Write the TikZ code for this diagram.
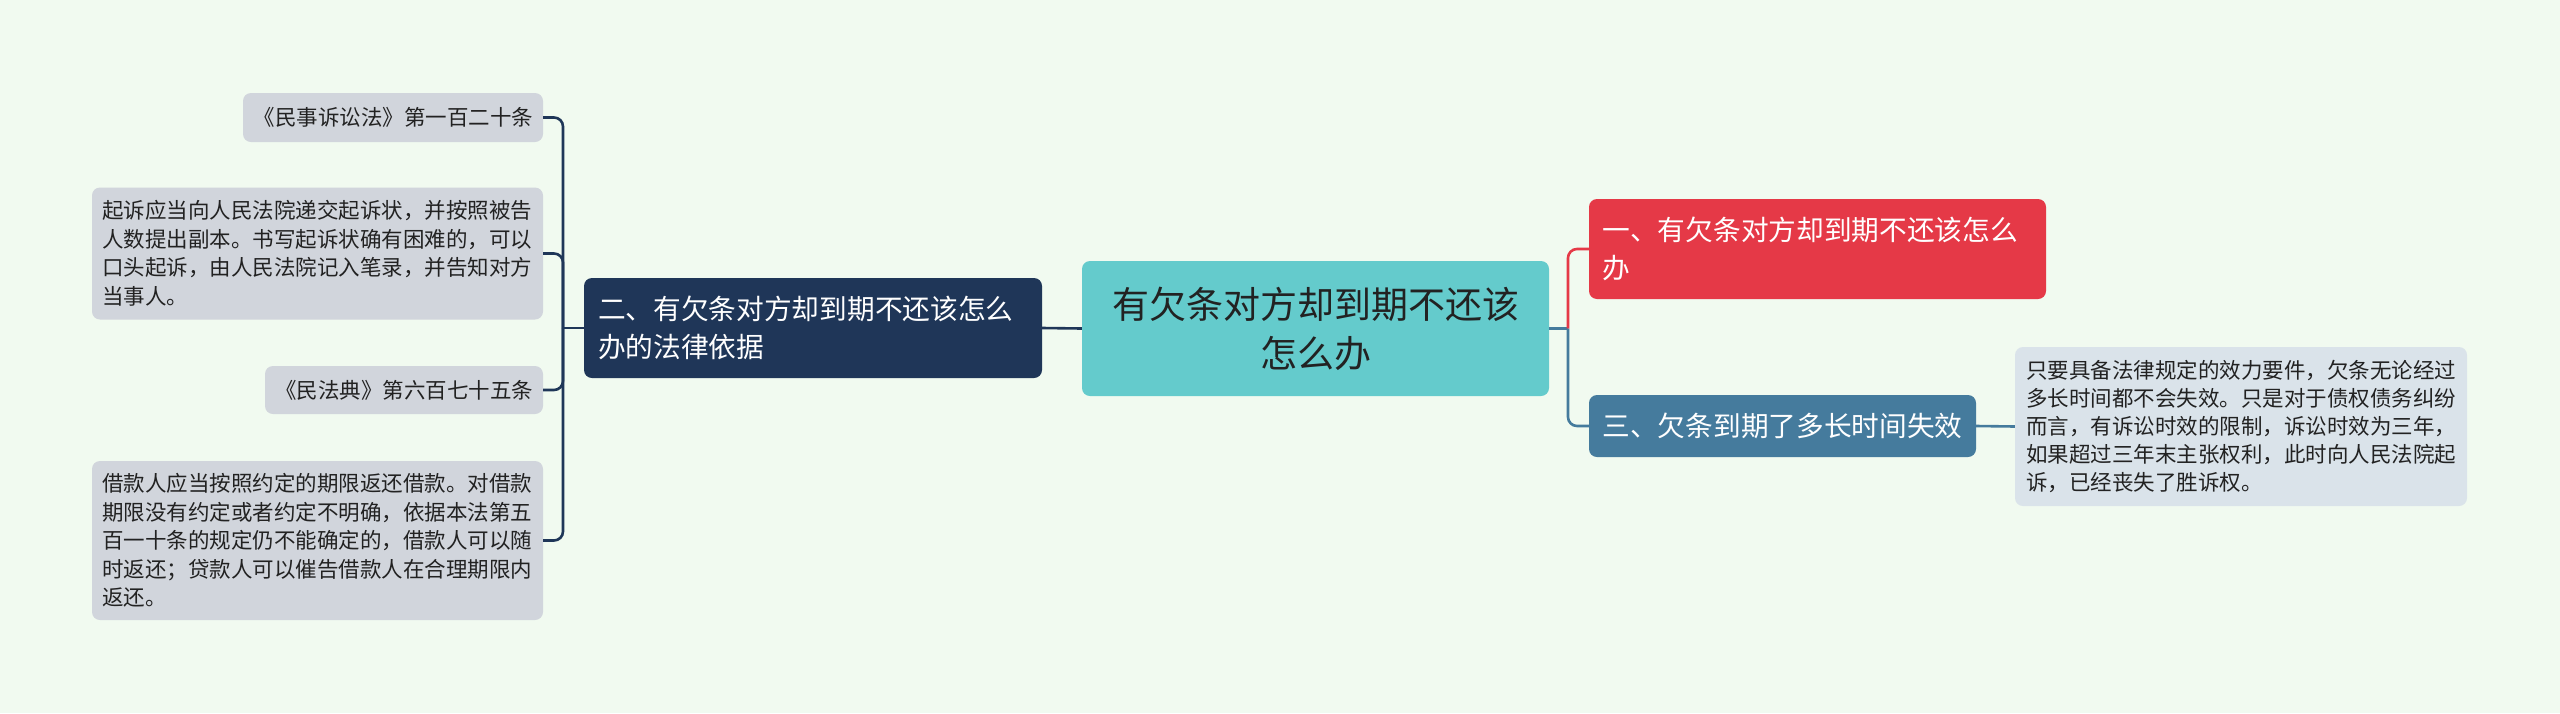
\documentclass[tikz,border=0pt]{standalone}
\usepackage{fontspec}
\setmainfont{Noto Sans CJK SC}
\definecolor{bgc}{HTML}{F1FAF0}
\definecolor{navy}{HTML}{1F3658}
\definecolor{teal}{HTML}{64CBCC}
\definecolor{redb}{HTML}{E53947}
\definecolor{blueb}{HTML}{457B9D}
\definecolor{leafc}{HTML}{D1D5DC}
\definecolor{detc}{HTML}{DAE3EA}
\definecolor{txt}{HTML}{222222}
\newcommand\fsz[2]{\fontsize{#1}{#2}\selectfont}
\tikzset{
  box/.style={rounded corners=8pt, inner xsep=0pt, inner ysep=0pt, anchor=center},
  leafbox/.style={box, fill=leafc, text=txt, font=\fsz{21.5}{28.5}},
  detbox/.style={box, fill=detc, text=txt, font=\fsz{21.5}{27.8}},
  subbox/.style={box, text=white, font=\fsz{27.7}{37.5}},
  centbox/.style={box, fill=teal, text=txt, font=\fsz{37}{49}},
  conn/.style={line width=2.6pt},
  curv/.style={conn, rounded corners=9pt},
}
\begin{document}
\begin{tikzpicture}[x=1pt,y=-1pt]
\useasboundingbox (0,0) rectangle (2560,713);
\fill[bgc] (0,0) rectangle (2560,713);

% central
\node[centbox, minimum width=467pt, minimum height=135pt, text width=440pt, align=center] (C) at (1315.5,328.5) {有欠条对方却到期不还该\\怎么办};

% left main branch
\node[subbox, fill=navy, minimum width=458pt, minimum height=100pt, text width=430pt, align=left] (ER) at (813,328) {二、有欠条对方却到期不还该怎么\\办的法律依据};

% leaves
\node[leafbox, minimum width=300pt, minimum height=49pt, text width=280pt, align=right] (L1) at (393,117.5) {《民事诉讼法》第一百二十条};
\node[leafbox, minimum width=451pt, minimum height=132pt, text width=431pt, align=left] (L2) at (317.5,253.5) {起诉应当向人民法院递交起诉状，并按照被告\\人数提出副本。书写起诉状确有困难的，可以\\口头起诉，由人民法院记入笔录，并告知对方\\当事人。};
\node[leafbox, minimum width=278pt, minimum height=48pt, text width=258pt, align=right] (L3) at (404,390) {《民法典》第六百七十五条};
\node[leafbox, minimum width=451pt, minimum height=159pt, text width=431pt, align=left] (L4) at (317.5,540.5) {借款人应当按照约定的期限返还借款。对借款\\期限没有约定或者约定不明确，依据本法第五\\百一十条的规定仍不能确定的，借款人可以随\\时返还；贷款人可以催告借款人在合理期限内\\返还。};

% right branches
\node[subbox, fill=redb, minimum width=457pt, minimum height=100pt, text width=430pt, align=left] (R) at (1817.5,249) {一、有欠条对方却到期不还该怎么\\办};
\node[subbox, fill=blueb, minimum width=387pt, minimum height=62pt, text width=360pt, align=center] (B) at (1782.5,426) {三、欠条到期了多长时间失效};
\node[detbox, minimum width=452pt, minimum height=159pt, text width=430pt, align=left] (D) at (2241,426.5) {只要具备法律规定的效力要件，欠条无论经过\\多长时间都不会失效。只是对于债权债务纠纷\\而言，有诉讼时效的限制，诉讼时效为三年，\\如果超过三年末主张权利，此时向人民法院起\\诉，已经丧失了胜诉权。};

% left connectors
\coordinate (LJ) at (563,328);
\draw[conn, navy] (C.west) -- (ER.east);
\draw[conn, navy] (ER.west) -- (LJ);
\draw[curv, navy] (LJ) |- (L1.east);
\draw[curv, navy] (LJ) |- (L2.east);
\draw[curv, navy] (LJ) |- (L3.east);
\draw[curv, navy] (LJ) |- (L4.east);

% right connectors
\coordinate (RJ) at (1568,328.5);
\draw[conn, blueb] (C.east) -- (RJ);
\draw[curv, redb] (RJ) |- (R.west);
\draw[curv, blueb] (RJ) |- (B.west);
\draw[conn, blueb] (B.east) -- (D.west);
\end{tikzpicture}
\end{document}
